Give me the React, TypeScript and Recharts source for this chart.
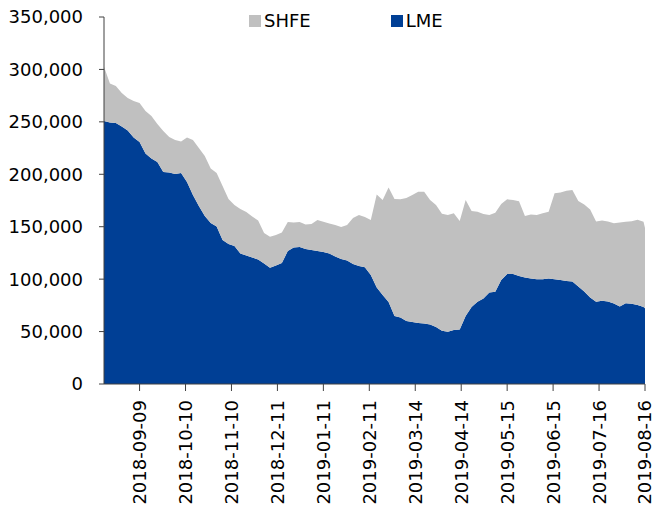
import { AreaChart, Area, XAxis, YAxis } from 'recharts'

// stocks, tonnes; sampled every 4 days from 2018-08-16
const DATES = [
  '2018-08-16', '2018-08-20', '2018-08-24', '2018-08-28', '2018-09-01', '2018-09-05', '2018-09-09', '2018-09-13',
  '2018-09-17', '2018-09-21', '2018-09-25', '2018-09-29', '2018-10-03', '2018-10-07', '2018-10-11', '2018-10-15',
  '2018-10-19', '2018-10-23', '2018-10-27', '2018-10-31', '2018-11-04', '2018-11-08', '2018-11-12', '2018-11-16',
  '2018-11-20', '2018-11-24', '2018-11-28', '2018-12-02', '2018-12-06', '2018-12-10', '2018-12-14', '2018-12-18',
  '2018-12-22', '2018-12-26', '2018-12-30', '2019-01-03', '2019-01-07', '2019-01-11', '2019-01-15', '2019-01-19',
  '2019-01-23', '2019-01-27', '2019-01-31', '2019-02-04', '2019-02-08', '2019-02-12', '2019-02-16', '2019-02-20',
  '2019-02-24', '2019-02-28', '2019-03-04', '2019-03-08', '2019-03-12', '2019-03-16', '2019-03-20', '2019-03-24',
  '2019-03-28', '2019-04-01', '2019-04-05', '2019-04-09', '2019-04-13', '2019-04-17', '2019-04-21', '2019-04-25',
  '2019-04-29', '2019-05-03', '2019-05-07', '2019-05-11', '2019-05-15', '2019-05-19', '2019-05-23', '2019-05-27',
  '2019-05-31', '2019-06-04', '2019-06-08', '2019-06-12', '2019-06-16', '2019-06-20', '2019-06-24', '2019-06-28',
  '2019-07-02', '2019-07-06', '2019-07-10', '2019-07-14', '2019-07-18', '2019-07-22', '2019-07-26', '2019-07-30',
  '2019-08-03', '2019-08-07', '2019-08-11', '2019-08-15', '2019-08-16',
]

const LME = [
  250800, 249400, 248900, 245600, 241800, 235100, 230800, 219800,
  215100, 211700, 202200, 201700, 200300, 201200, 192600, 180200,
  169800, 160200, 153500, 150200, 137300, 133500, 131600, 124500,
  122600, 120600, 118700, 114900, 110900, 113000, 115400, 126800,
  130200, 130700, 128700, 127800, 126800, 125900, 124500, 121600,
  119200, 117800, 114400, 112500, 111300, 104000, 92000, 84900,
  78200, 64900, 63400, 60100, 59100, 58200, 57700, 56700,
  54400, 50700, 49900, 51500, 52000, 64900, 73400, 78500,
  81500, 87300, 88000, 99200, 104900, 104900, 103000, 101600,
  100600, 99900, 99900, 100600, 99900, 99200, 98200, 97800,
  93000, 88200, 82500, 78500, 79400, 78700, 76800, 73900,
  77000, 76500, 75300, 73400, 72200,
]

const SHFE = [
  51800, 37200, 35300, 31900, 31000, 34800, 37200, 40500,
  40500, 36200, 39100, 33900, 32400, 30000, 42400, 52500,
  55300, 57200, 52000, 51000, 51500, 42900, 39100, 42400,
  41500, 39100, 37200, 29100, 29600, 29100, 29100, 27700,
  23800, 23800, 23400, 24800, 29600, 28900, 28600, 30000,
  30500, 33900, 43900, 48600, 48000, 52500, 88700, 90600,
  109200, 111600, 112700, 117300, 121100, 125200, 125700, 118700,
  116400, 111700, 111300, 111300, 103500, 110600, 91600, 85800,
  80600, 73900, 75300, 72500, 71200, 70600, 71200, 58700,
  61000, 61300, 62900, 63700, 81900, 83400, 86100, 87300,
  81500, 83000, 83900, 76500, 76500, 76300, 76500, 80100,
  77800, 78800, 81300, 81400, 76600,
]

const TICK_DATES = [
  '2018-09-09', '2018-10-10', '2018-11-10', '2018-12-11', '2019-01-11', '2019-02-11',
  '2019-03-14', '2019-04-14', '2019-05-15', '2019-06-15', '2019-07-16', '2019-08-16',
]
const Y_TICKS = [0, 50000, 100000, 150000, 200000, 250000, 300000, 350000]

const FONT = '"DejaVu Sans", Verdana, sans-serif'
const BLUE = '#003f95'
const GREY = '#c0c0c0'
const AXIS = '#404040'

const data = DATES.map((d, i) => ({ t: Date.parse(d), LME: LME[i], SHFE: SHFE[i] }))
const xTicks = TICK_DATES.map((d) => Date.parse(d))

function DateTick(props: any) {
  const { x, y, payload } = props
  const label = new Date(payload.value).toISOString().slice(0, 10)
  return (
    <text
      x={x}
      y={y}
      dy="0.36em"
      textAnchor="end"
      transform={`rotate(-90, ${x}, ${y})`}
      fontSize={18}
      fontFamily={FONT}
      fill="#000"
    >
      {label}
    </text>
  )
}

function LegendBox() {
  const items = [
    { name: 'SHFE', color: GREY },
    { name: 'LME', color: BLUE },
  ]
  return (
    <div
      style={{
        position: 'absolute', left: 249, top: 10, display: 'flex', gap: 80,
        fontFamily: FONT, fontSize: 18, color: '#000',
      }}
    >
      {items.map((it) => (
        <div key={it.name} style={{ display: 'flex', alignItems: 'center' }}>
          <span style={{ width: 12, height: 12, background: it.color, marginRight: 3 }} />
          <span>{it.name}</span>
        </div>
      ))}
    </div>
  )
}

export default function App() {
  return (
    <div style={{ position: 'fixed', left: 0, top: 0, width: 657, height: 510, background: '#fff' }}>
      <AreaChart width={657} height={510} data={data} margin={{ top: 17, right: 12, left: 0, bottom: 0 }}>
        <XAxis
          dataKey="t"
          type="number"
          domain={[xTicks[0] - 24 * 86400000, xTicks[xTicks.length - 1]]}
          ticks={xTicks}
          tick={<DateTick />}
          interval={0}
          height={126}
          tickSize={7}
          tickMargin={9}
          stroke={AXIS}
          allowDataOverflow
        />
        <YAxis
          domain={[0, 350000]}
          ticks={Y_TICKS}
          width={104}
          tickSize={5}
          tickMargin={16}
          stroke={AXIS}
          tick={{ fontSize: 18, fill: '#000', fontFamily: FONT }}
          tickFormatter={(v: number) => v.toLocaleString('en-US')}
        />
        <Area
          type="linear"
          dataKey="LME"
          stackId="1"
          stroke="none"
          fill={BLUE}
          fillOpacity={1}
          isAnimationActive={false}
        />
        <Area
          type="linear"
          dataKey="SHFE"
          stackId="1"
          stroke="none"
          fill={GREY}
          fillOpacity={1}
          isAnimationActive={false}
        />
      </AreaChart>
      <LegendBox />
    </div>
  )
}
